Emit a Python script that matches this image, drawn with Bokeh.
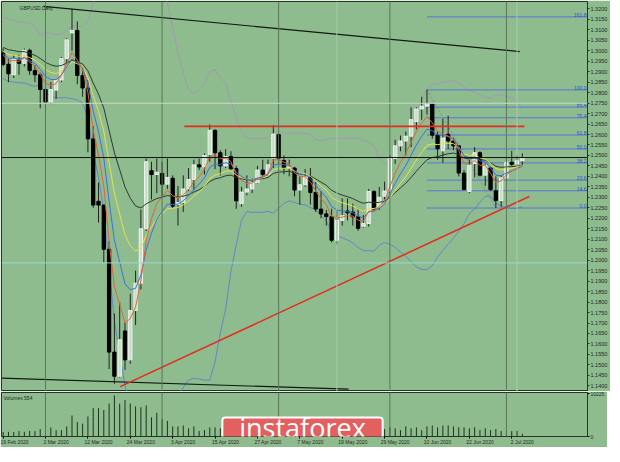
import numpy as np
import pandas as pd
from bokeh.plotting import figure
from bokeh.layouts import column
from bokeh.models import Range1d, FixedTicker, PrintfTickFormatter, Label, Span, ColumnDataSource
from bokeh.embed import file_html
from bokeh.resources import INLINE
from bokeh.core.properties import value

# ---------------- data ----------------
symbol_title = "GBPUSD,Daily"
volume_title = "Volumes 554"
banner_text = "instaforex"
dates = pd.bdate_range("2020-02-19", "2020-07-06")

opens = [1.2990, 1.2935, 1.2885, 1.2955, 1.2940, 1.3002, 1.2905, 1.2885, 1.2815, 1.2755,
         1.2812, 1.2860, 1.2962, 1.3085, 1.3097, 1.2882, 1.2822, 1.2579, 1.2281, 1.2263,
         1.2052, 1.1561, 1.1446, 1.1662, 1.1524, 1.1760, 1.1890, 1.2150, 1.2427, 1.2409,
         1.2414, 1.2363, 1.2391, 1.2265, 1.2275, 1.2340, 1.2385, 1.2455, 1.2445, 1.2505,
         1.2620, 1.2513, 1.2450, 1.2495, 1.2437, 1.2270, 1.2325, 1.2340, 1.2370, 1.2430,
         1.2410, 1.2487, 1.2600, 1.2476, 1.2440, 1.2440, 1.2335, 1.2360, 1.2397, 1.2323,
         1.2244, 1.2221, 1.2208, 1.2095, 1.2190, 1.2235, 1.2230, 1.2207, 1.2162, 1.2175,
         1.2328, 1.2254, 1.2305, 1.2330, 1.2485, 1.2546, 1.2569, 1.2592, 1.2662, 1.2722,
         1.2735, 1.2745, 1.2597, 1.2522, 1.2601, 1.2569, 1.2546, 1.2416, 1.2328, 1.2462,
         1.2513, 1.2406, 1.2440, 1.2331, 1.2285, 1.2393, 1.2467, 1.2460, 1.2475]
highs = [1.3012, 1.2960, 1.2980, 1.2980, 1.3010, 1.3010, 1.2930, 1.2895, 1.2830, 1.2850,
         1.2865, 1.2970, 1.3060, 1.3200, 1.3140, 1.2920, 1.2860, 1.2640, 1.2370, 1.2265,
         1.2090, 1.1745, 1.1800, 1.1700, 1.1840, 1.1950, 1.2240, 1.2485, 1.2470, 1.2485,
         1.2470, 1.2485, 1.2405, 1.2355, 1.2405, 1.2440, 1.2480, 1.2485, 1.2510, 1.2648,
         1.2625, 1.2525, 1.2530, 1.2520, 1.2450, 1.2350, 1.2405, 1.2390, 1.2450, 1.2480,
         1.2480, 1.2645, 1.2605, 1.2500, 1.2480, 1.2445, 1.2400, 1.2435, 1.2440, 1.2375,
         1.2330, 1.2240, 1.2245, 1.2240, 1.2295, 1.2295, 1.2270, 1.2245, 1.2215, 1.2340,
         1.2335, 1.2350, 1.2375, 1.2500, 1.2575, 1.2595, 1.2615, 1.2730, 1.2730, 1.2780,
         1.2813, 1.2750, 1.2615, 1.2675, 1.2690, 1.2585, 1.2550, 1.2430, 1.2480, 1.2540,
         1.2520, 1.2460, 1.2445, 1.2400, 1.2405, 1.2485, 1.2522, 1.2500, 1.2510]
lows = [1.2925, 1.2850, 1.2870, 1.2885, 1.2925, 1.2885, 1.2850, 1.2725, 1.2725, 1.2745,
        1.2770, 1.2850, 1.2940, 1.3000, 1.2840, 1.2780, 1.2515, 1.2250, 1.2180, 1.1990,
        1.1480, 1.1410, 1.1440, 1.1475, 1.1505, 1.1690, 1.1860, 1.2140, 1.2290, 1.2320,
        1.2300, 1.2340, 1.2245, 1.2165, 1.2230, 1.2330, 1.2335, 1.2430, 1.2410, 1.2470,
        1.2435, 1.2405, 1.2440, 1.2430, 1.2245, 1.2255, 1.2310, 1.2320, 1.2365, 1.2400,
        1.2400, 1.2440, 1.2460, 1.2410, 1.2400, 1.2305, 1.2265, 1.2350, 1.2265, 1.2230,
        1.2200, 1.2165, 1.2085, 1.2075, 1.2165, 1.2190, 1.2165, 1.2140, 1.2155, 1.2160,
        1.2240, 1.2240, 1.2290, 1.2320, 1.2460, 1.2520, 1.2500, 1.2540, 1.2625, 1.2670,
        1.2695, 1.2580, 1.2480, 1.2465, 1.2530, 1.2525, 1.2400, 1.2335, 1.2320, 1.2395,
        1.2400, 1.2355, 1.2330, 1.2249, 1.2255, 1.2380, 1.2450, 1.2455, 1.2455]
closes = [1.2935, 1.2890, 1.2962, 1.2940, 1.3002, 1.2905, 1.2885, 1.2815, 1.2755, 1.2815,
          1.2860, 1.2962, 1.3052, 1.3097, 1.2882, 1.2822, 1.2579, 1.2263, 1.2263, 1.2052,
          1.1561, 1.1446, 1.1620, 1.1524, 1.1760, 1.1890, 1.2150, 1.2470, 1.2409, 1.2420,
          1.2363, 1.2395, 1.2258, 1.2275, 1.2340, 1.2385, 1.2455, 1.2445, 1.2500, 1.2620,
          1.2513, 1.2450, 1.2495, 1.2437, 1.2283, 1.2325, 1.2340, 1.2370, 1.2430, 1.2410,
          1.2455, 1.2602, 1.2487, 1.2440, 1.2445, 1.2335, 1.2360, 1.2397, 1.2323, 1.2244,
          1.2221, 1.2208, 1.2095, 1.2190, 1.2212, 1.2226, 1.2207, 1.2152, 1.2175, 1.2328,
          1.2244, 1.2300, 1.2330, 1.2490, 1.2546, 1.2569, 1.2592, 1.2671, 1.2722, 1.2735,
          1.2745, 1.2597, 1.2532, 1.2583, 1.2569, 1.2546, 1.2416, 1.2337, 1.2453, 1.2513,
          1.2406, 1.2453, 1.2337, 1.2285, 1.2393, 1.2467, 1.2458, 1.2475, 1.2490]
volumes = [1080, 1110, 1050, 1290, 1120, 1310, 1280, 1740, 1330, 2160,
           1520, 1530, 2390, 4990, 3470, 3040, 4770, 6720, 6730, 6290,
           7810, 9760, 7800, 8680, 7820, 7160, 6940, 7380, 4560, 5640,
           4120, 3690, 2390, 2400, 2600, 1950, 2380, 1300, 1520, 2170,
           2160, 1950, 1740, 1730, 2600, 2170, 1950, 1520, 1740, 1960,
           2170, 2820, 2160, 1740, 1750, 2170, 2390, 1950, 1960, 2170,
           2380, 2170, 2600, 2390, 1950, 1960, 1940, 1740, 1090, 2170,
           2160, 1950, 1740, 2170, 1950, 1520, 2390, 1960, 2170, 1520,
           2390, 2600, 2170, 2600, 2610, 2390, 2170, 2160, 1950, 2170,
           1520, 1950, 1530, 1740, 1300, 1310, 1290, 1300, 650]
# closes before the first drawn bar, used only to warm up the indicators
warmup_closes = [1.3125, 1.3115, 1.3075, 1.3075, 1.3000, 1.3015, 1.3100, 1.3205, 1.2995, 1.3020,
                 1.2995, 1.2935, 1.2890, 1.2915, 1.2950, 1.2975, 1.3045, 1.3050, 1.3005, 1.2990]

price_ticks = [round(1.1400 + 0.005 * k, 4) for k in range(37)]
vol_ticks = [0, 10225]

# analyst drawings (bar index, price)
top_line_x = [7.6, 97.5]
top_line_y = [1.3212, 1.2996]
bottom_line_x = [-0.3, 65.2]
bottom_line_y = [1.1437, 1.1384]
support_x = [22.1, 99.3]
support_y = [1.1396, 1.2304]
resist_x = [34.2, 98.4]
resist_y = [1.2639, 1.2639]
fib_start, fib_end = 80, 93
fib_ratios = [161.8, 100.0, 85.4, 76.4, 61.8, 50.0, 38.2, 23.6, 14.6, 0.0]
fib_texts = ["161.8", "100.0", "85.4", "76.4", "61.8", "50.0", "38.2", "23.6", "14.6", "0.0"]
marker_prices = [1.2749, 1.2490, 1.1987]
marker_texts = ["1.2749", "1.2490", "1.1987"]
month_starts = [8, 30, 52, 73, 95]
grid_marks = [63, 97]

# ---------------- derived ----------------
n = len(closes)
idx = list(range(n))
allc = pd.Series(warmup_closes + closes)
w = len(warmup_closes)
ema = {k: allc.ewm(span=k, adjust=False).mean().values[w:] for k in (5, 8, 13, 21)}
mid = allc.rolling(20).mean()
sd = allc.rolling(20).std(ddof=0)
bb_up = (mid + 2 * sd).values[w:]
bb_lo = (mid - 2 * sd).values[w:]
fib_hi = highs[fib_start]
fib_lo = lows[fib_end]
fib_prices = [fib_lo + r / 100.0 * (fib_hi - fib_lo) for r in fib_ratios]

BG = "#8fbc8f"
FONT = "Liberation Sans"
FW = 586
X_LO, X_HI = -0.31, 110.3
Y_LO, Y_HI = 1.1373, 1.3235

p = figure(frame_width=FW, frame_height=390, x_range=Range1d(X_LO, X_HI), y_range=Range1d(Y_LO, Y_HI),
           x_axis_location=None, y_axis_location="right", output_backend="svg", toolbar_location=None,
           min_border_left=1, min_border_right=17, min_border_top=1, min_border_bottom=0,
           background_fill_color=BG, border_fill_color=BG, outline_line_color="#263626")
p.grid.visible = False
ax = p.yaxis[0]
ax.ticker = FixedTicker(ticks=price_ticks)
ax.formatter = PrintfTickFormatter(format="%.4f")
ax.major_label_text_font_size = "5.5px"
ax.major_label_text_font = FONT
ax.major_label_text_color = "#1e2a1e"
ax.major_tick_out = 2
ax.major_tick_in = 0
ax.minor_tick_out = 0
ax.minor_tick_in = 0
ax.major_label_standoff = 1
ax.axis_line_color = "#263626"
ax.major_tick_line_color = "#263626"

for m in month_starts:
    p.add_layout(Span(location=m, dimension="height", line_color="#5a765a", line_width=1))
for m in grid_marks:
    p.add_layout(Span(location=m, dimension="height", line_color="#aacaaa", line_width=1))
p.add_layout(Span(location=marker_prices[0], dimension="width", line_color="#c6dcc6", line_width=1))
p.add_layout(Span(location=marker_prices[2], dimension="width", line_color="#99d8d0", line_width=1))

# Bollinger bands
p.line(idx, bb_up, line_color="#a398b2", line_width=1)
p.line(idx, bb_lo, line_color="#5f88c8", line_width=1)

# fibonacci
k = len(fib_prices)
p.segment(x0=[fib_start] * k, x1=[X_HI] * k, y0=fib_prices, y1=fib_prices, line_color="#5576d6", line_width=1)
p.line([fib_start, fib_end], [fib_hi, fib_lo], line_color="#6f8f8f", line_width=1, line_dash="2 2")
p.text(x=[X_HI - 0.2] * k, y=fib_prices, text=fib_texts, text_align="right", text_baseline="bottom",
       text_font=value(FONT), text_font_size="5px", text_color="#2a4fd0")

# candles
src = ColumnDataSource(dict(x=idx, o=opens, h=highs, l=lows, c=closes))
inc = [i for i in idx if closes[i] >= opens[i]]
dec = [i for i in idx if closes[i] < opens[i]]
p.segment(x0="x", y0="h", x1="x", y1="l", source=src, line_color="#222222", line_width=1)
p.vbar(x=inc, width=0.62, top=[closes[i] for i in inc], bottom=[opens[i] for i in inc],
       fill_color="#c6dfc6", line_color="#f2f2f2", line_width=1)
p.vbar(x=dec, width=0.62, top=[opens[i] for i in dec], bottom=[closes[i] for i in dec],
       fill_color="#000000", line_color="#000000", line_width=1)

# moving averages
p.line(idx, ema[21], line_color="#2c3c2c", line_width=1)
p.line(idx, ema[13], line_color="#e6e24a", line_width=1)
p.line(idx, ema[8], line_color="#3f6fdc", line_width=1)
p.line(idx, ema[5], line_color="#e2623e", line_width=1)

# drawings
p.line(top_line_x, top_line_y, line_color="#101810", line_width=1.2)
p.line(bottom_line_x, bottom_line_y, line_color="#101810", line_width=1.2)
p.line(support_x, support_y, line_color="#e52a1e", line_width=1.5)
p.line(resist_x, resist_y, line_color="#e52a1e", line_width=1.6)

# current price line
p.add_layout(Span(location=marker_prices[1], dimension="width", line_color="#111111", line_width=1))

for pr, tx, bg, fg in zip(marker_prices, marker_texts, ["#f2f2f2", "#0c0c0c", "#00f0f0"], ["#222222", "#ffffff", "#103030"]):
    p.add_layout(Label(x=FW + 1, y=pr, x_units="screen", text=tx, text_font=FONT, text_font_size="5.5px",
                       text_baseline="middle", text_align="left", text_color=fg,
                       background_fill_color=bg, padding=1))

p.add_layout(Label(x=18, y=384, x_units="screen", y_units="screen", text=symbol_title, text_font=FONT,
                   text_font_size="5px", text_baseline="middle", text_color="#1a2a1a"))

# ---------------- volume panel ----------------
label_idx = list(range(0, n, 8))
VH = 44
v = figure(frame_width=FW, frame_height=VH, x_range=p.x_range, y_range=Range1d(0, 10443),
           y_axis_location="right", output_backend="svg", toolbar_location=None,
           min_border_left=1, min_border_right=17, min_border_top=1, min_border_bottom=0,
           background_fill_color=BG, border_fill_color=BG, outline_line_color="#263626")
v.grid.visible = False
for m in month_starts:
    v.add_layout(Span(location=m, dimension="height", line_color="#5a765a", line_width=1))
v.segment(x0=idx, y0=[0] * n, x1=idx, y1=volumes, line_color="#1b331b", line_width=1)

xa = v.xaxis[0]
xa.ticker = FixedTicker(ticks=[i + 2 for i in label_idx], minor_ticks=label_idx)
xa.major_label_overrides = {i + 2: f"{dates[i].day} {dates[i].strftime('%b %Y')}" for i in label_idx}
xa.major_label_text_font_size = "5px"
xa.major_label_text_font = FONT
xa.major_label_text_color = "#1e2a1e"
xa.major_tick_out = 0
xa.major_tick_in = 0
xa.minor_tick_out = 2
xa.minor_tick_in = 0
xa.major_label_standoff = 0
xa.axis_line_color = "#263626"

ya = v.yaxis[0]
ya.ticker = FixedTicker(ticks=vol_ticks)
ya.formatter = PrintfTickFormatter(format="%d")
ya.major_label_text_font_size = "5px"
ya.major_label_text_font = FONT
ya.major_label_text_color = "#1e2a1e"
ya.major_tick_out = 2
ya.major_tick_in = 0
ya.minor_tick_out = 0
ya.minor_tick_in = 0
ya.major_label_standoff = 1
ya.axis_line_color = "#263626"

v.add_layout(Label(x=2, y=VH - 5, x_units="screen", y_units="screen", text=volume_title, text_font=FONT,
                   text_font_size="5px", text_baseline="middle", text_color="#1a2a1a"))

# banner: box (padding order: left, right, top, bottom) and its text
v.add_layout(Label(x=301, y=5, x_units="screen", y_units="screen", text=" ",
                   text_font_size="1px", text_align="center", text_baseline="middle",
                   background_fill_color="#e2605f", border_line_color="#ffffff", border_line_width=2,
                   padding=(80, 80, 14, 13), border_radius=3))
v.add_layout(Label(x=301, y=9, x_units="screen", y_units="screen", text=banner_text,
                   text_font="Open Sans", text_font_size="27px", text_color="#ffffff",
                   text_align="center", text_baseline="middle"))

layout = column(p, v, spacing=0)
open("out.html", "w").write(file_html(layout, INLINE))
